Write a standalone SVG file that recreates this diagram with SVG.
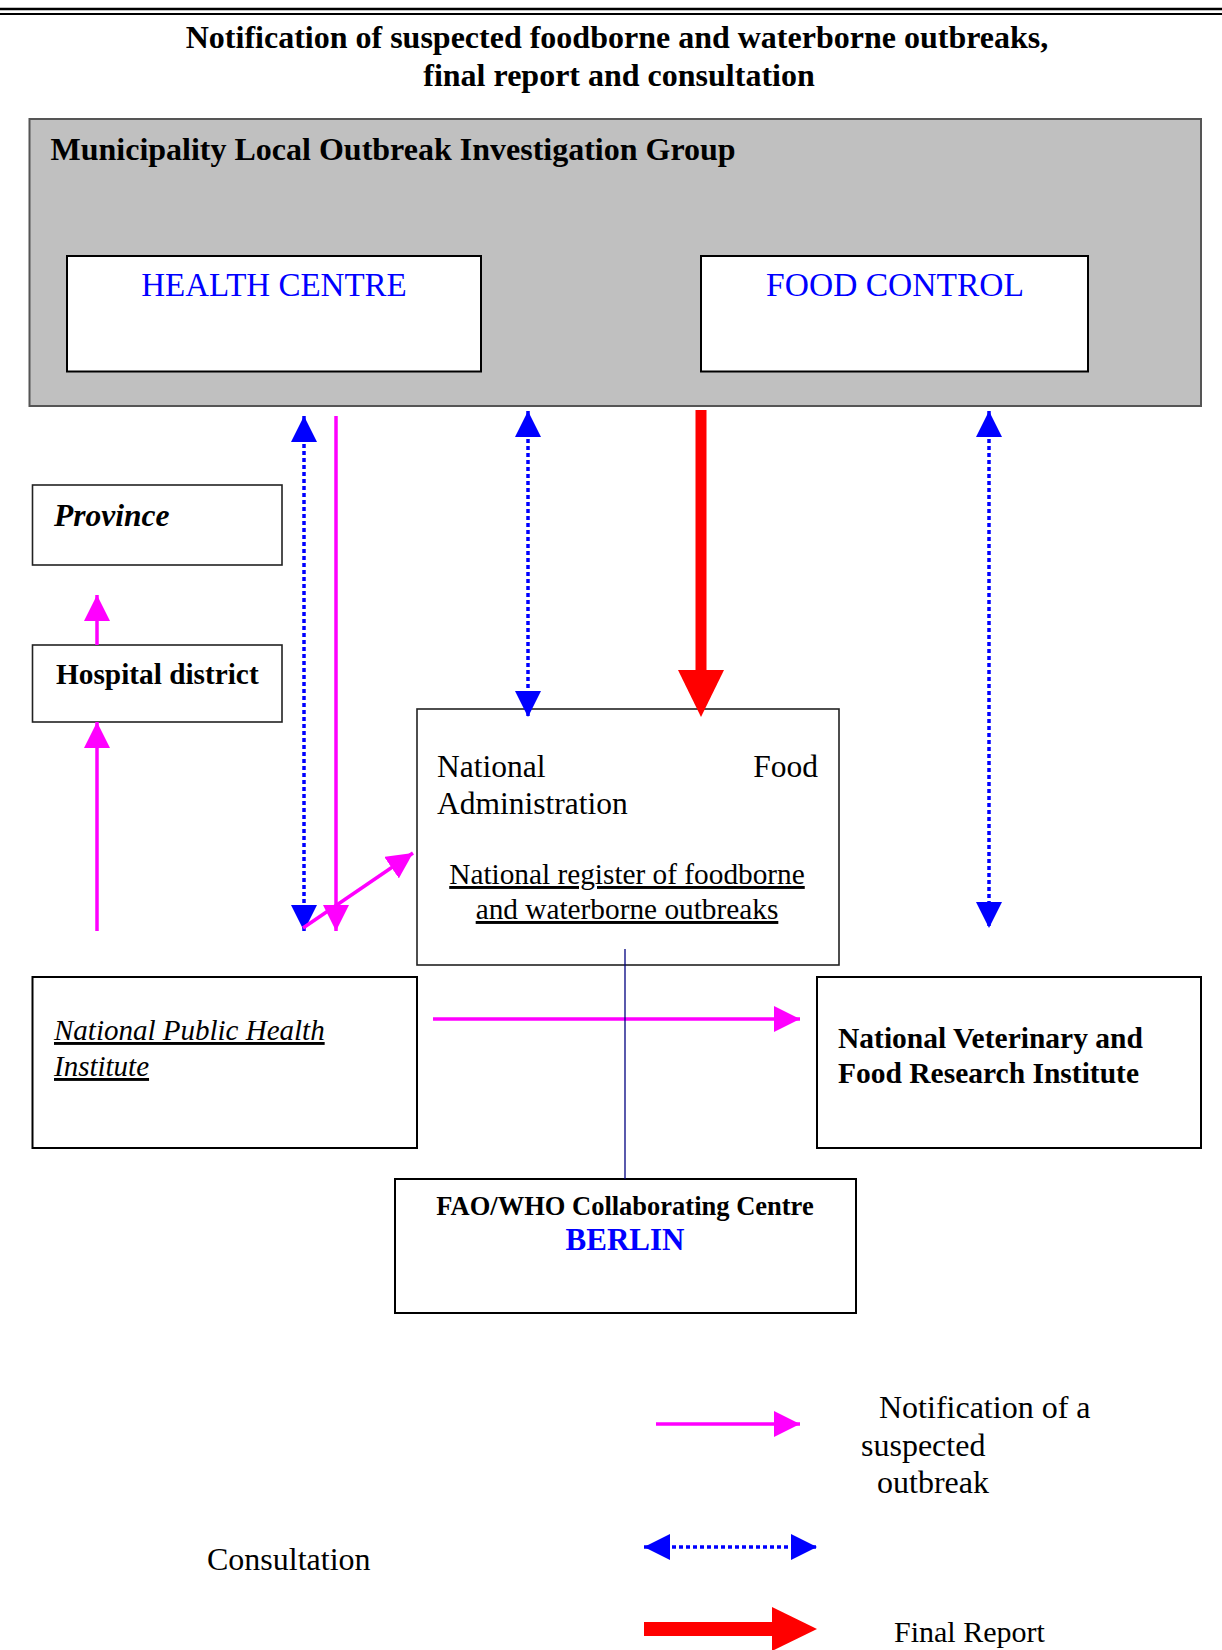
<svg xmlns="http://www.w3.org/2000/svg" width="1222" height="1650" viewBox="0 0 1222 1650">
<style>
text{font-family:"Liberation Serif","Times New Roman",serif;fill:#000}
.b{font-weight:bold}
.blue{fill:#0000ff}
.box{fill:#fff;stroke:#000;stroke-width:2}
.thin{fill:#fff;stroke:#222;stroke-width:1.6}
.mag{stroke:#ff00ff;stroke-width:3.5;fill:none}
.dot{stroke:#0000ff;stroke-width:3.5;stroke-dasharray:4 3;fill:none}
.red{stroke:#ff0000;fill:none}
</style>
<defs>
<marker id="mh" markerUnits="userSpaceOnUse" markerWidth="26" markerHeight="26" viewBox="0 0 24 24" refX="24" refY="12" orient="auto-start-reverse"><path d="M0,0 L24,12 L0,24 Z" fill="#ff00ff"/></marker>
<marker id="bh" markerUnits="userSpaceOnUse" markerWidth="26" markerHeight="26" viewBox="0 0 24 24" refX="24" refY="12" orient="auto-start-reverse"><path d="M0,0 L24,12 L0,24 Z" fill="#0000ff"/></marker>
</defs>

<g id="header">
<line x1="0" y1="9" x2="1222" y2="9" stroke="#000" stroke-width="2.5"/>
<line x1="0" y1="14" x2="1222" y2="14" stroke="#000" stroke-width="2"/>
<text class="b" x="617" y="48" font-size="32" text-anchor="middle">Notification of suspected foodborne and waterborne outbreaks,</text>
<text class="b" x="619" y="86" font-size="32" text-anchor="middle">final report and consultation</text>
</g>

<g id="municipality">
<rect x="29.5" y="119" width="1171.5" height="287" fill="#c0c0c0" stroke="#555" stroke-width="2"/>
<text class="b" x="50.5" y="160" font-size="32">Municipality Local Outbreak Investigation Group</text>
</g>
<g id="health-centre">
<rect class="box" x="67" y="256" width="414" height="115.5"/>
<text class="blue" x="274" y="296" font-size="33" text-anchor="middle">HEALTH CENTRE</text>
</g>
<g id="food-control">
<rect class="box" x="701" y="256" width="387" height="115.5"/>
<text class="blue" x="895" y="296" font-size="33.5" text-anchor="middle">FOOD CONTROL</text>
</g>

<g id="province">
<rect class="thin" x="32.5" y="485" width="249.5" height="80"/>
<text class="b" x="54" y="526" font-size="31.5" font-style="italic">Province</text>
</g>
<g id="hospital-district">
<rect class="thin" x="32.5" y="645" width="249.5" height="77"/>
<text class="b" x="56" y="684" font-size="29.3">Hospital district</text>
</g>

<g id="nfa">
<rect class="thin" x="417" y="709" width="422" height="256"/>
<text x="437" y="777" font-size="31.5">National</text>
<text x="818" y="777" font-size="31.5" text-anchor="end">Food</text>
<text x="437" y="814" font-size="31.5">Administration</text>
<text x="627" y="884" font-size="29.3" text-anchor="middle" text-decoration="underline">National register of foodborne</text>
<text x="627" y="919" font-size="29.3" text-anchor="middle" text-decoration="underline">and waterborne outbreaks</text>
</g>

<g id="nphi">
<rect class="box" x="32.5" y="977" width="384.5" height="171"/>
<text x="54" y="1040" font-size="29" font-style="italic" text-decoration="underline">National Public Health</text>
<text x="54" y="1076" font-size="29" font-style="italic" text-decoration="underline">Institute</text>
</g>

<g id="nvfri">
<rect class="box" x="817" y="977" width="384" height="171"/>
<text class="b" x="838" y="1048" font-size="29.5">National Veterinary and</text>
<text class="b" x="838" y="1083" font-size="29.5">Food Research Institute</text>
</g>

<g id="fao-who">
<rect class="box" x="395" y="1179" width="461" height="134"/>
<text class="b" x="625" y="1215" font-size="26.5" text-anchor="middle">FAO/WHO Collaborating Centre</text>
<text class="b blue" x="625" y="1250" font-size="31" text-anchor="middle">BERLIN</text>
</g>

<g id="connectors">
<line class="dot" x1="304" y1="416" x2="304" y2="931" marker-start="url(#bh)" marker-end="url(#bh)"/>
<line class="mag" x1="336" y1="416" x2="336" y2="931" marker-end="url(#mh)"/>
<line class="mag" x1="303" y1="928" x2="413" y2="853" marker-end="url(#mh)"/>
<line class="dot" x1="528" y1="411" x2="528" y2="717" marker-start="url(#bh)" marker-end="url(#bh)"/>
<line class="red" x1="701" y1="410" x2="701" y2="680" stroke-width="11"/>
<polygon points="678,670 724,670 701,717" fill="#ff0000"/>
<line class="dot" x1="989" y1="411" x2="989" y2="928" marker-start="url(#bh)" marker-end="url(#bh)"/>
<line class="mag" x1="97" y1="645" x2="97" y2="595" marker-end="url(#mh)"/>
<line class="mag" x1="97" y1="931" x2="97" y2="722" marker-end="url(#mh)"/>
<line class="mag" x1="433" y1="1019" x2="800" y2="1019" marker-end="url(#mh)"/>
<line x1="625" y1="949" x2="625" y2="1179" stroke="#000080" stroke-width="1.3"/>
</g>

<g id="legend">
<line class="mag" x1="656" y1="1424" x2="800" y2="1424" marker-end="url(#mh)"/>
<text x="879" y="1418" font-size="32">Notification of a</text>
<text x="861" y="1456" font-size="32">suspected</text>
<text x="877" y="1493" font-size="32">outbreak</text>
<line class="dot" x1="644" y1="1547" x2="817" y2="1547" marker-start="url(#bh)" marker-end="url(#bh)"/>
<text x="207" y="1570" font-size="32">Consultation</text>
<line class="red" x1="644" y1="1629" x2="780" y2="1629" stroke-width="14"/>
<polygon points="772,1607 817,1629 772,1651" fill="#ff0000"/>
<text x="894" y="1642" font-size="30">Final Report</text>
</g>
</svg>
